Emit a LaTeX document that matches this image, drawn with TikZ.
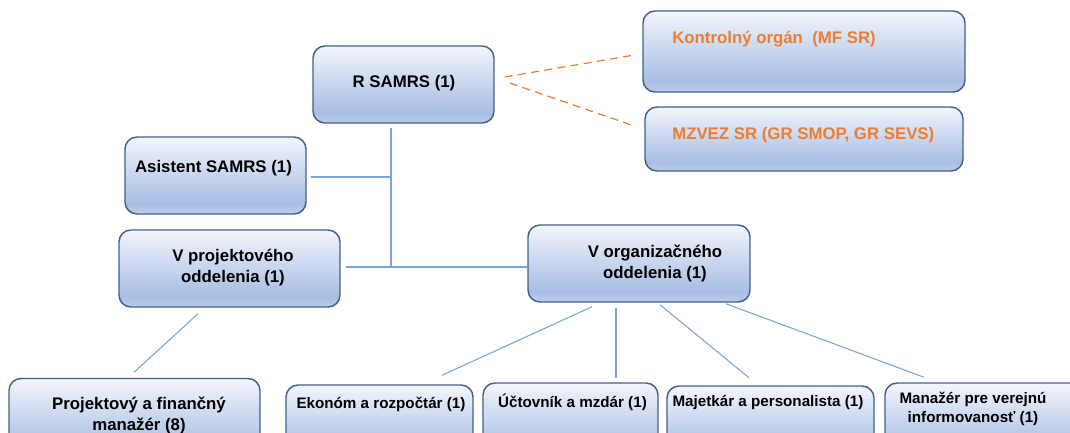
\documentclass[tikz,border=0pt]{standalone}
\usepackage{fontspec}
\setmainfont{Liberation Sans}
\usetikzlibrary{fit}
\definecolor{boxline}{HTML}{41618A}
\definecolor{boxtop}{HTML}{F3F6FC}
\definecolor{boxmid}{HTML}{CAD7EF}
\definecolor{boxbot}{HTML}{A8BEE3}
\definecolor{boxlow}{HTML}{BCCCEA}
\definecolor{connc}{HTML}{78A5D8}
\definecolor{orng}{HTML}{ED7D31}
\pgfdeclareverticalshading{boxshade}{100bp}{color(0bp)=(boxlow); color(25bp)=(boxlow); color(32bp)=(boxbot); color(52bp)=(boxmid); color(75bp)=(boxtop); color(100bp)=(boxtop)}
\begin{document}
\begin{tikzpicture}[x=0.75pt,y=-0.75pt,
  box/.style={draw=boxline, line width=1.1pt, rounded corners=9pt, shading=boxshade, inner sep=0pt},
  big/.style={font=\bfseries\fontsize{12.6}{15.75}\selectfont, text=black, align=center, inner sep=0pt},
  small/.style={font=\bfseries\fontsize{11.4}{14.25}\selectfont, text=black, align=center, inner sep=0pt},
  orangetext/.style={font=\bfseries\fontsize{12.6}{15.75}\selectfont, text=orng, inner sep=0pt, anchor=west},
  conn/.style={draw=connc, line width=0.8pt},
  dsh/.style={draw=orng, line width=0.9pt, dash pattern=on 6pt off 4pt}]
\useasboundingbox (0,0) rectangle (1070,432);

% boxes
\node[box, fit={(313,46) (494,123)}] (rsamrs) {};
\node[box, fit={(643,11) (965,92)}] (ko) {};
\node[box, fit={(645,107) (963,171)}] (mz) {};
\node[box, fit={(125,137) (306,214)}] (as) {};
\node[box, fit={(119,230) (340,307)}] (vp) {};
\node[box, fit={(528,225) (750,302)}] (vo) {};
\node[box, fit={(9,378.5) (260,460)}] (pf) {};
\node[box, fit={(286,385) (473,460)}] (ek) {};
\node[box, fit={(483,383) (658,460)}] (uc) {};
\node[box, fit={(667,386) (874,460)}] (ma) {};
\node[box, fit={(885,383) (1085,460)}] (mn) {};

% texts
\node[big] (trs) at (404,83) {R SAMRS (1)};
\node[orangetext] (tko) at (672,39) {Kontrolný orgán\ \ (MF SR)};
\node[orangetext] (tmz) at (672,135) {MZVEZ SR (GR SMOP, GR SEVS)};
\node[big] (tas) at (213.5,168) {Asistent SAMRS (1)};
\node[big] (tvp) at (233,267.5) {V projektového\\oddelenia (1)};
\node[big] (tvo) at (655,263) {V organizačného\\oddelenia (1)};
\node[big] (tpf) at (139,415.5) {Projektový a finančný\\manažér (8)};
\node[small] (tek) at (381,404) {Ekonóm a rozpočtár (1)};
\node[small] (tuc) at (572.5,402) {Účtovník a mzdár (1)};
\node[small] (tma) at (768,402) {Majetkár a personalista (1)};
\node[small] (tmn) at (973,409) {Manažér pre verejnú\\informovanosť (1)};

% junctions
\coordinate (j) at (391,267);
\coordinate (ja) at (391,177);

% connectors
\draw[dsh] ([shift={(10,-7.5)}]rsamrs.east) -- ([shift={(-8,3.5)}]ko.west);
\draw[dsh] ([shift={(15,-1.5)}]rsamrs.east) -- ([shift={(-10,-13)}]mz.west);
\draw[conn] ([shift={(-12.5,4)}]rsamrs.south) -- (j);
\draw[conn] ([shift={(4,1.5)}]as.east) -- (ja);
\draw[conn] ([shift={(5,-1.5)}]vp.east) -- ([shift={(0,3.5)}]vo.west);
\draw[conn] ([shift={(-31.5,6)}]vp.south) -- ([shift={(-0.5,-5.5)}]pf.north);
\draw[conn] ([shift={(-47,4)}]vo.south) -- ([shift={(62.5,-9)}]ek.north);
\draw[conn] ([shift={(-23,5)}]vo.south) -- ([shift={(45.5,-4.5)}]uc.north);
\draw[conn] ([shift={(21,2)}]vo.south) -- ([shift={(-21.5,-7.5)}]ma.north);
\draw[conn] ([shift={(87,1)}]vo.south) -- ([shift={(-61,-5)}]mn.north);
\end{tikzpicture}
\end{document}
